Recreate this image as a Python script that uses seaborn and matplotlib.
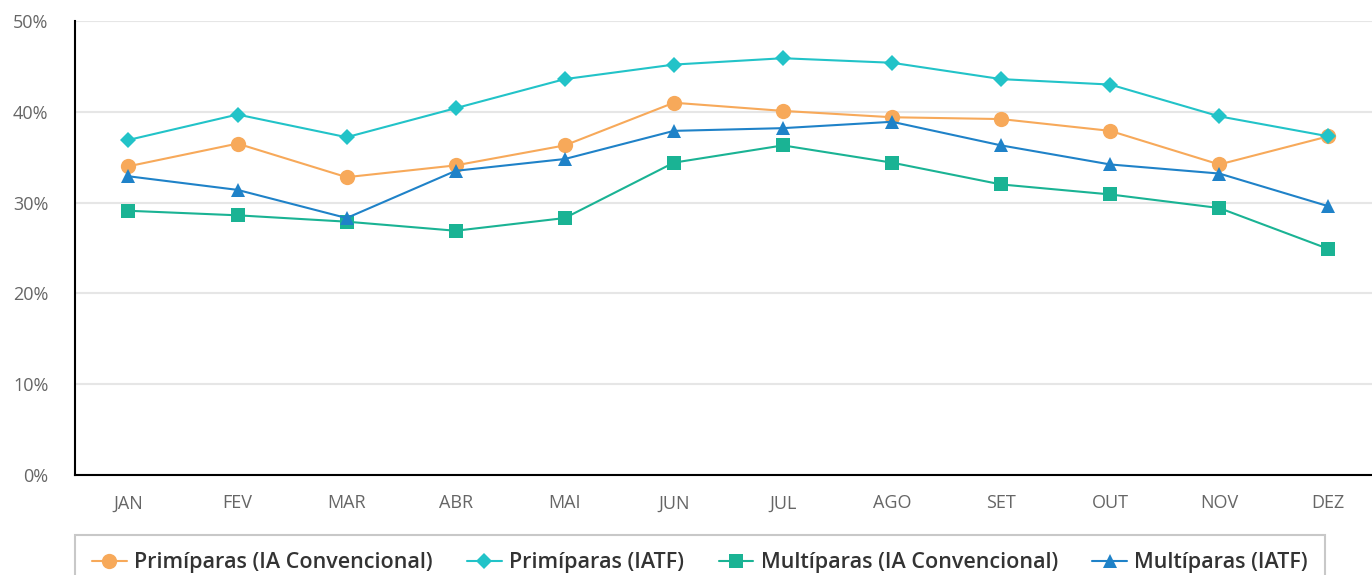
import pandas as pd
import matplotlib.pyplot as plt
import seaborn as sns
from matplotlib.ticker import FuncFormatter

# dados
meses = ["JAN", "FEV", "MAR", "ABR", "MAI", "JUN", "JUL", "AGO", "SET", "OUT", "NOV", "DEZ"]
prim_ia = [34.0, 36.5, 32.8, 34.1, 36.3, 41.0, 40.1, 39.4, 39.2, 37.9, 34.2, 37.3]
prim_iatf = [36.9, 39.7, 37.2, 40.4, 43.6, 45.2, 45.9, 45.4, 43.6, 43.0, 39.5, 37.3]
mult_ia = [29.1, 28.6, 27.9, 26.9, 28.3, 34.4, 36.3, 34.4, 32.0, 30.9, 29.4, 24.9]
mult_iatf = [32.9, 31.4, 28.3, 33.5, 34.8, 37.9, 38.2, 38.9, 36.3, 34.2, 33.2, 29.6]

series = ["Primíparas (IA Convencional)", "Primíparas (IATF)",
          "Multíparas (IA Convencional)", "Multíparas (IATF)"]
cores = ["#F7A95A", "#22C3C8", "#1AB394", "#1F82C8"]
marcadores = ["o", "D", "s", "^"]
tamanhos = [11, 8, 10, 10]

sns.set_style("white")
plt.rcParams['font.family'] = ['Open Sans', 'DejaVu Sans']

fig = plt.figure(figsize=(13.72, 5.75), dpi=100)
ax = fig.add_axes([75 / 1372, 100 / 575, 1 - 75 / 1372, 454 / 575])

for nome, valores, cor, mk, ms in zip(series, [prim_ia, prim_iatf, mult_ia, mult_iatf],
                                      cores, marcadores, tamanhos):
    df = pd.DataFrame({"mes": range(len(meses)), "valor": valores})
    sns.lineplot(data=df, x="mes", y="valor", ax=ax, color=cor, marker=mk,
                 markersize=ms, markeredgewidth=0, linewidth=1.5, label=nome)

ax.set_xlim(-0.49, 11.4)
ax.set_ylim(0, 50)
ax.set_yticks(range(0, 51, 10))
ax.yaxis.set_major_formatter(FuncFormatter(lambda v, p: f"{v:.0f}%"))
ax.set_xticks(range(len(meses)))
ax.set_xticklabels(meses)
ax.set_xlabel("")
ax.set_ylabel("")
ax.tick_params(axis="both", colors="#666666", labelsize=13, length=0)
ax.tick_params(axis="x", pad=14)
ax.tick_params(axis="y", pad=19)
ax.grid(axis="y", color="#e6e6e6", linewidth=1.5)
ax.set_axisbelow(True)
for lado in ["top", "right"]:
    ax.spines[lado].set_visible(False)
for lado in ["left", "bottom"]:
    ax.spines[lado].set_color("black")
    ax.spines[lado].set_linewidth(1.5)

ax.get_legend().remove()
h, l = ax.get_legend_handles_labels()
leg = fig.legend(h, l, loc="upper left", bbox_to_anchor=(75 / 1372, 40 / 575), ncol=4,
                 frameon=True, fancybox=False, edgecolor="#bbbbbb",
                 prop={"size": 15.5, "weight": "semibold"}, borderaxespad=0,
                 handlelength=1.6, handletextpad=0.35, columnspacing=1.6, borderpad=0.8)
leg.get_frame().set_linewidth(1.5)
for t in leg.get_texts():
    t.set_color("#333333")

plt.savefig("out.png", dpi=100)
plt.close()
